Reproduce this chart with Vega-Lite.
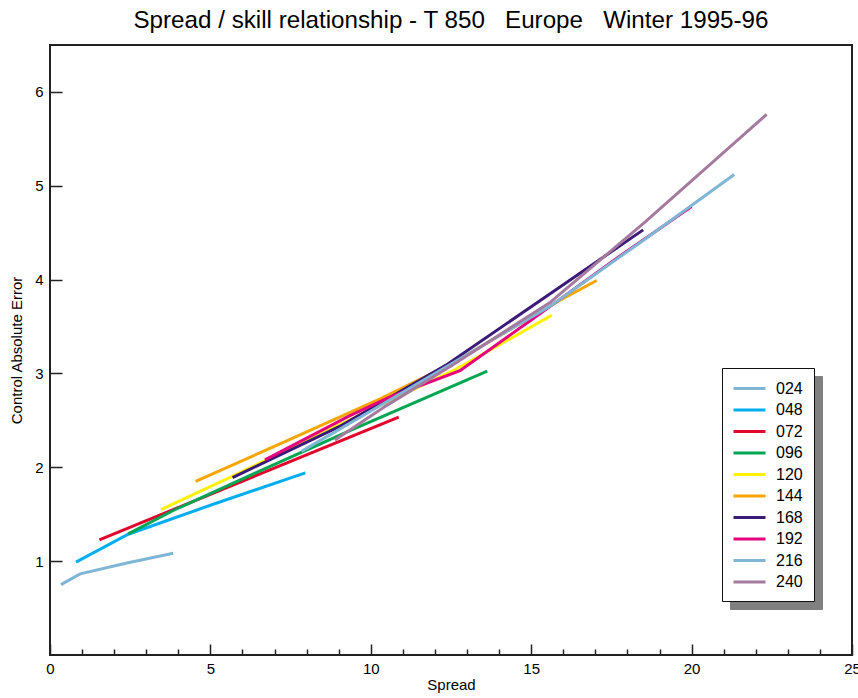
{
  "$schema": "https://vega.github.io/schema/vega-lite/v6.json",
  "width": 802,
  "height": 610,
  "autosize": {"type": "none"},
  "padding": {"left": 50, "top": 45, "right": 6, "bottom": 43},
  "background": "white",
  "title": {
    "text": "Spread / skill relationship - T 850\u00a0\u00a0\u00a0Europe\u00a0\u00a0\u00a0Winter 1995-96",
    "font": "Liberation Sans",
    "fontSize": 24.2,
    "fontWeight": "normal",
    "color": "#000000",
    "anchor": "middle",
    "frame": "group",
    "baseline": "alphabetic",
    "offset": -7
  },
  "config": {
    "view": {"stroke": "#222222", "strokeWidth": 2},
    "font": "Liberation Sans"
  },
  "data": {
    "values": [
      {"lead": "024", "spread": 0.34, "error": 0.75},
      {"lead": "024", "spread": 0.94, "error": 0.865},
      {"lead": "024", "spread": 2.4, "error": 0.98},
      {"lead": "024", "spread": 3.84, "error": 1.085},
      {"lead": "048", "spread": 0.81, "error": 0.99},
      {"lead": "048", "spread": 2.44, "error": 1.287},
      {"lead": "048", "spread": 5.2, "error": 1.62},
      {"lead": "048", "spread": 7.96, "error": 1.94},
      {"lead": "072", "spread": 1.54, "error": 1.227},
      {"lead": "072", "spread": 6.2, "error": 1.88},
      {"lead": "072", "spread": 10.87, "error": 2.535},
      {"lead": "096", "spread": 2.44, "error": 1.29},
      {"lead": "096", "spread": 3.84, "error": 1.54},
      {"lead": "096", "spread": 6.6, "error": 1.97},
      {"lead": "096", "spread": 9.35, "error": 2.39},
      {"lead": "096", "spread": 13.63, "error": 3.025},
      {"lead": "120", "spread": 3.46, "error": 1.55},
      {"lead": "120", "spread": 5.66, "error": 1.9},
      {"lead": "120", "spread": 9.0, "error": 2.45},
      {"lead": "120", "spread": 12.68, "error": 3.05},
      {"lead": "120", "spread": 15.64, "error": 3.62},
      {"lead": "144", "spread": 4.54, "error": 1.85},
      {"lead": "144", "spread": 7.5, "error": 2.3},
      {"lead": "144", "spread": 10.29, "error": 2.73},
      {"lead": "144", "spread": 12.5, "error": 3.1},
      {"lead": "144", "spread": 15.9, "error": 3.78},
      {"lead": "144", "spread": 17.04, "error": 3.99},
      {"lead": "168", "spread": 5.69, "error": 1.89},
      {"lead": "168", "spread": 9.0, "error": 2.43},
      {"lead": "168", "spread": 12.4, "error": 3.1},
      {"lead": "168", "spread": 15.59, "error": 3.85},
      {"lead": "168", "spread": 18.49, "error": 4.53},
      {"lead": "192", "spread": 6.7, "error": 2.08},
      {"lead": "192", "spread": 9.35, "error": 2.55},
      {"lead": "192", "spread": 10.6, "error": 2.75},
      {"lead": "192", "spread": 12.0, "error": 2.93},
      {"lead": "192", "spread": 12.78, "error": 3.03},
      {"lead": "192", "spread": 15.0, "error": 3.57},
      {"lead": "192", "spread": 17.55, "error": 4.2},
      {"lead": "192", "spread": 20.0, "error": 4.78},
      {"lead": "216", "spread": 7.84, "error": 2.17},
      {"lead": "216", "spread": 10.0, "error": 2.6},
      {"lead": "216", "spread": 12.5, "error": 3.1},
      {"lead": "216", "spread": 15.6, "error": 3.72},
      {"lead": "216", "spread": 18.5, "error": 4.42},
      {"lead": "216", "spread": 21.33, "error": 5.12},
      {"lead": "240", "spread": 8.88, "error": 2.29},
      {"lead": "240", "spread": 10.5, "error": 2.66},
      {"lead": "240", "spread": 12.5, "error": 3.08},
      {"lead": "240", "spread": 15.6, "error": 3.76},
      {"lead": "240", "spread": 18.5, "error": 4.6},
      {"lead": "240", "spread": 22.34, "error": 5.76}
    ]
  },
  "resolve": {"legend": {"stroke": "independent"}},
  "encoding": {
    "x": {
      "field": "spread",
      "type": "quantitative",
      "scale": {"domain": [0, 25], "nice": false, "zero": false},
      "axis": {
        "title": "Spread",
        "titleFont": "Liberation Sans",
        "titleFontSize": 15,
        "titleFontWeight": "normal",
        "titleColor": "#000000",
        "titlePadding": -4,
        "values": [0,1,2,3,4,5,6,7,8,9,10,11,12,13,14,15,16,17,18,19,20,21,22,23,24,25],
        "domain": false,
        "grid": false,
        "tickColor": "#222222",
        "tickWidth": 1.5,
        "tickSize": {"condition": {"test": "datum.value % 5 === 0", "value": -11}, "value": -6},
        "labelExpr": "datum.value % 5 === 0 ? datum.label : ''",
        "labelFont": "Liberation Sans",
        "labelFontSize": 15,
        "labelColor": "#000000",
        "labelPadding": 17,
        "labelFlush": false,
        "labelOverlap": false
      }
    },
    "y": {
      "field": "error",
      "type": "quantitative",
      "scale": {"domain": [0, 6.5], "nice": false, "zero": false},
      "axis": {
        "title": "Control Absolute Error",
        "titleFont": "Liberation Sans",
        "titleFontSize": 15,
        "titleFontWeight": "normal",
        "titleColor": "#000000",
        "titlePadding": 10,
        "values": [1, 2, 3, 4, 5, 6],
        "domain": false,
        "grid": false,
        "tickColor": "#222222",
        "tickWidth": 1.5,
        "tickSize": -12,
        "labelFont": "Liberation Sans",
        "labelFontSize": 15,
        "labelColor": "#000000",
        "labelPadding": 19,
        "labelFlush": false
      }
    }
  },
  "layer": [
    {
      "mark": {"type": "line", "strokeWidth": 3, "strokeOpacity": 0},
      "encoding": {
        "stroke": {
          "field": "lead",
          "type": "nominal",
          "scale": {
            "domain": ["024", "048", "072", "096", "120", "144", "168", "192", "216", "240"],
            "range": ["#7fb6d6", "#00aeef", "#e2062c", "#00a651", "#fff200", "#f7a600", "#3b1a7a", "#e6007e", "#7fb6d6", "#a57a9f"]
          },
          "legend": {
            "orient": "none",
            "legendX": 680,
            "legendY": 331,
            "title": null,
            "zindex": 1,
            "fillColor": "#808080",
            "strokeColor": "#808080",
            "padding": 11,
            "rowPadding": 3.5,
            "symbolType": "M-2,0L2,0",
            "symbolSize": 256,
            "symbolStrokeWidth": 3,
            "symbolOpacity": 0,
            "symbolOffset": 7,
            "labelOpacity": 0,
            "labelColor": "#808080",
            "labelFont": "Liberation Sans",
            "labelFontSize": 16,
            "labelOffset": 17
          }
        }
      }
    },
    {
      "mark": {"type": "line", "strokeWidth": 3},
      "encoding": {
        "stroke": {
          "field": "lead",
          "type": "nominal",
          "legend": {
            "orient": "none",
            "legendX": 672,
            "legendY": 323,
            "title": null,
            "zindex": 2,
            "fillColor": "#ffffff",
            "strokeColor": "#111111",
            "padding": 11,
            "rowPadding": 3.5,
            "symbolType": "M-2,0L2,0",
            "symbolSize": 256,
            "symbolStrokeWidth": 3,
            "symbolOffset": 7,
            "labelColor": "#000000",
            "labelFont": "Liberation Sans",
            "labelFontSize": 16,
            "labelOffset": 17
          }
        }
      }
    }
  ]
}
